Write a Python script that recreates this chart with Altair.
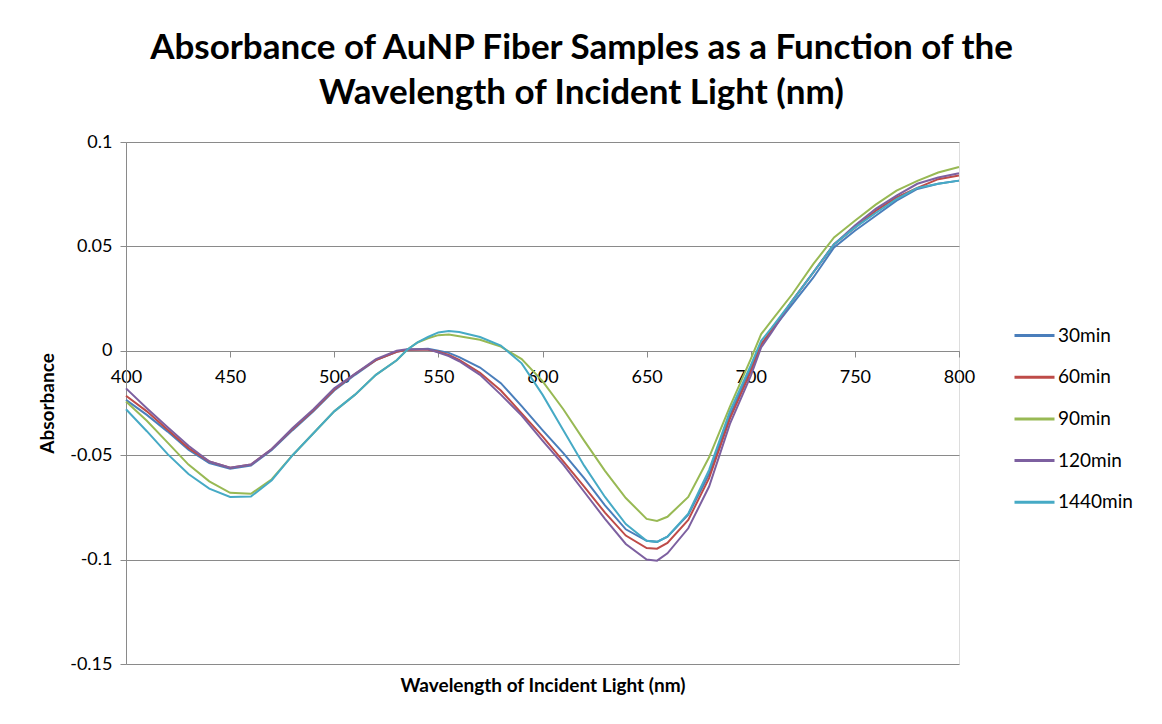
import altair as alt
import pandas as pd

wavelengths = [400, 410, 420, 430, 440, 450, 460, 470, 480, 490, 500, 510, 520, 530, 535, 540, 545,
               550, 555, 560, 570, 580, 590, 600, 610, 620, 630, 640, 650, 655, 660, 670, 680, 690,
               700, 705, 710, 720, 730, 740, 750, 760, 770, 780, 790, 800]

abs_30 = [-0.0235, -0.0307, -0.0387, -0.0474, -0.0538, -0.0565, -0.0550, -0.0475, -0.0380, -0.0290,
          -0.0190, -0.0115, -0.0045, -0.0005, 0.0005, 0.0008, 0.0010, 0.0000, -0.0010, -0.0030,
          -0.0080, -0.0155, -0.0265, -0.0380, -0.0490, -0.0610, -0.0740, -0.0855, -0.0910, -0.0915,
          -0.0890, -0.0785, -0.0590, -0.0310, -0.0080, 0.0032, 0.0096, 0.0224, 0.0350, 0.0495,
          0.0575, 0.0647, 0.0719, 0.0775, 0.0800, 0.0815]
abs_60 = [-0.0215, -0.0290, -0.0378, -0.0466, -0.0530, -0.0560, -0.0545, -0.0470, -0.0375, -0.0285,
          -0.0185, -0.0110, -0.0045, -0.0005, 0.0005, 0.0005, 0.0005, -0.0005, -0.0020, -0.0043,
          -0.0105, -0.0190, -0.0300, -0.0410, -0.0530, -0.0650, -0.0775, -0.0885, -0.0945, -0.0948,
          -0.0920, -0.0810, -0.0610, -0.0325, -0.0100, 0.0030, 0.0100, 0.0240, 0.0375, 0.0510,
          0.0590, 0.0670, 0.0735, 0.0780, 0.0822, 0.0840]
abs_90 = [-0.0243, -0.0335, -0.0440, -0.0545, -0.0625, -0.0680, -0.0685, -0.0615, -0.0500, -0.0395,
          -0.0290, -0.0210, -0.0115, -0.0045, 0.0005, 0.0040, 0.0060, 0.0075, 0.0078, 0.0070,
          0.0053, 0.0020, -0.0040, -0.0145, -0.0280, -0.0430, -0.0575, -0.0705, -0.0805, -0.0815,
          -0.0795, -0.0700, -0.0510, -0.0267, -0.0040, 0.0080, 0.0144, 0.0272, 0.0415, 0.0543,
          0.0623, 0.0700, 0.0767, 0.0814, 0.0854, 0.0880]
abs_120 = [-0.0180, -0.0275, -0.0366, -0.0455, -0.0530, -0.0560, -0.0545, -0.0470, -0.0370, -0.0280,
           -0.0180, -0.0110, -0.0040, 0.0000, 0.0008, 0.0008, 0.0008, -0.0008, -0.0025, -0.0050,
           -0.0115, -0.0210, -0.0310, -0.0430, -0.0545, -0.0675, -0.0805, -0.0925, -0.1000, -0.1005,
           -0.0970, -0.0850, -0.0650, -0.0350, -0.0120, 0.0016, 0.0088, 0.0240, 0.0375, 0.0510,
           0.0600, 0.0680, 0.0743, 0.0800, 0.0830, 0.0850]
abs_1440 = [-0.0280, -0.0385, -0.0495, -0.0590, -0.0660, -0.0700, -0.0698, -0.0620, -0.0500, -0.0395,
            -0.0290, -0.0210, -0.0115, -0.0045, 0.0005, 0.0040, 0.0066, 0.0088, 0.0095, 0.0090,
            0.0066, 0.0025, -0.0060, -0.0210, -0.0380, -0.0550, -0.0700, -0.0830, -0.0910, -0.0915,
            -0.0890, -0.0780, -0.0570, -0.0290, -0.0070, 0.0048, 0.0110, 0.0240, 0.0375, 0.0510,
            0.0590, 0.0660, 0.0727, 0.0780, 0.0800, 0.0815]

series_names = ["30min", "60min", "90min", "120min", "1440min"]
series_values = [abs_30, abs_60, abs_90, abs_120, abs_1440]
series_colors = ["#4A7EBB", "#BE4B48", "#98B954", "#7D60A0", "#46AAC5"]

x_ticks = [400, 450, 500, 550, 600, 650, 700, 750, 800]
y_ticks = [-0.15, -0.1, -0.05, 0, 0.05, 0.1]

rows = []
for order, (name, vals) in enumerate(zip(series_names, series_values)):
    for w, v in zip(wavelengths, vals):
        rows.append({"Wavelength": w, "Absorbance": v, "Series": name, "k": order})
df = pd.DataFrame(rows)

FONT = "Lato"
GRAY = "#8a8a8a"

chart = alt.Chart(df).mark_line(strokeWidth=2).encode(
    x=alt.X("Wavelength:Q",
            scale=alt.Scale(domain=[400, 800], nice=False, zero=False),
            axis=alt.Axis(values=x_ticks, offset=-313, grid=False,
                          domainColor=GRAY, domainWidth=1, tickColor=GRAY, tickSize=6,
                          labelFont=FONT, labelFontSize=18, labelColor="black", labelPadding=11,
                          labelFlush=False,
                          title="Wavelength of Incident Light (nm)", titleFont=FONT,
                          titleFontSize=19, titleFontWeight="bold", titleColor="black",
                          titleY=334, titleBaseline="middle")),
    y=alt.Y("Absorbance:Q",
            scale=alt.Scale(domain=[-0.15, 0.1], nice=False, zero=False),
            axis=alt.Axis(values=y_ticks, labelExpr="'' + datum.value",
                          grid=True, gridColor=GRAY, gridWidth=1,
                          domainColor=GRAY, domainWidth=1, tickColor=GRAY, tickSize=6,
                          labelFont=FONT, labelFontSize=18, labelColor="black", labelPadding=8,
                          title="Absorbance", titleFont=FONT, titleFontSize=19,
                          titleFontWeight="bold", titleColor="black",
                          titleX=-79, titleY=261, titleBaseline="middle", titleAngle=270)),
    color=alt.Color("Series:N",
                    scale=alt.Scale(domain=series_names, range=series_colors),
                    legend=alt.Legend(orient="none", legendX=887, legendY=172, title=None,
                                      symbolType="stroke", symbolSize=1600, symbolStrokeWidth=3,
                                      labelFont=FONT, labelFontSize=19, labelColor="black",
                                      labelOffset=2, rowPadding=9.7, padding=0)),
    order=alt.Order("k:Q"),
).properties(
    width=833,
    height=522,
    autosize=alt.AutoSizeParams(type="none"),
    padding={"left": 118, "top": 134, "right": 195, "bottom": 52},
    title=alt.TitleParams(
        text=["Absorbance of AuNP Fiber Samples as a Function of the",
              "Wavelength of Incident Light (nm)"],
        anchor="middle", font=FONT, fontSize=35, fontWeight="bold", color="black",
        lineHeight=45, dx=39, offset=22),
).configure_view(strokeWidth=0).configure(background="white")

chart.save("out.html", embed_options={"renderer": "svg", "actions": False})
